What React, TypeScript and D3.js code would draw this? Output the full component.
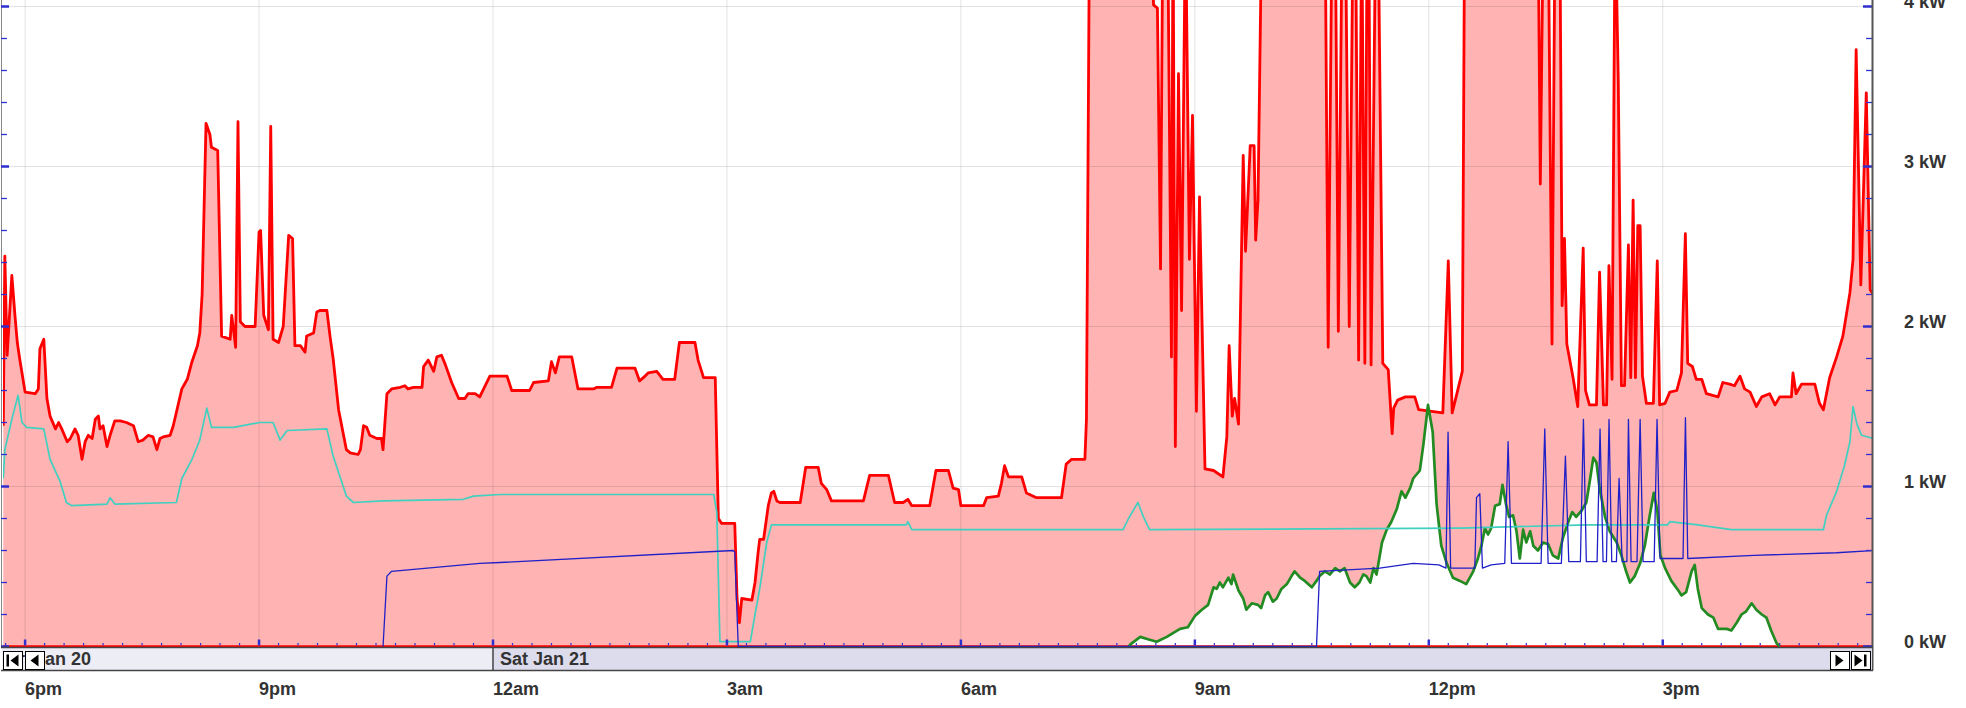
import React from "react";
import * as d3 from "d3";

// Hours since Fri Jan 20 2023 18:00 -> kW
const consumption: [number, number][] = [
  [-0.28,1.38],[-0.26,2.44],[-0.23,1.82],[-0.17,2.32],[-0.13,2.07],[-0.10,1.90],[-0.07,1.80],[0,1.59],[0.13,1.58],[0.17,1.61],[0.19,1.86],[0.24,1.92],[0.28,1.55],[0.32,1.44],[0.39,1.36],[0.43,1.40],[0.47,1.36],[0.54,1.28],[0.58,1.30],[0.64,1.36],[0.68,1.32],[0.73,1.17],[0.77,1.28],[0.81,1.32],[0.86,1.30],[0.90,1.42],[0.94,1.44],[0.96,1.36],[1.0,1.38],[1.05,1.25],[1.09,1.32],[1.15,1.41],[1.22,1.41],[1.30,1.40],[1.39,1.38],[1.45,1.28],[1.51,1.29],[1.58,1.32],[1.64,1.31],[1.69,1.23],[1.73,1.30],[1.77,1.31],[1.86,1.32],[1.90,1.38],[2.01,1.61],[2.08,1.67],[2.14,1.78],[2.21,1.88],[2.24,1.96],[2.27,2.2],
  [2.32,3.27],[2.37,3.20],[2.39,3.12],[2.47,3.10],[2.52,1.94],[2.63,1.92],[2.65,2.07],[2.70,1.87],[2.73,3.28],[2.76,2.03],[2.82,2.0],[2.95,2.0],[3.0,2.59],[3.02,2.60],[3.06,2.07],[3.12,1.98],[3.15,3.25],[3.18,1.92],[3.25,1.90],[3.31,2.0],[3.38,2.57],[3.43,2.55],[3.46,1.88],[3.53,1.88],[3.59,1.84],[3.61,1.94],[3.70,1.96],[3.74,2.09],[3.78,2.10],[3.87,2.10],[3.91,1.94],[3.95,1.80],[4.02,1.48],[4.06,1.38],[4.12,1.23],[4.17,1.21],[4.27,1.20],[4.30,1.23],[4.34,1.38],[4.38,1.37],[4.42,1.32],[4.51,1.30],[4.57,1.30],[4.59,1.23],[4.64,1.58],[4.70,1.61],[4.81,1.62],[4.87,1.63],[4.91,1.61],[4.98,1.62],[5.09,1.62],[5.11,1.75],[5.17,1.79],[5.24,1.72],[5.28,1.81],[5.34,1.82],[5.39,1.76],[5.47,1.65],[5.56,1.55],[5.64,1.55],[5.68,1.58],[5.77,1.58],
  [5.83,1.56],[5.96,1.69],[6.18,1.69],[6.24,1.60],[6.47,1.60],[6.52,1.65],[6.71,1.66],[6.75,1.78],[6.80,1.71],[6.85,1.81],[7.01,1.81],[7.09,1.61],[7.29,1.61],[7.33,1.62],[7.52,1.62],[7.59,1.74],[7.82,1.74],[7.88,1.66],[7.95,1.69],[7.99,1.71],[8.10,1.72],[8.18,1.67],[8.33,1.67],[8.39,1.90],[8.59,1.90],[8.63,1.79],[8.70,1.68],[8.85,1.68],[8.89,0.80],[8.93,0.77],[9.10,0.77],[9.13,0.30],[9.16,0.15],[9.19,0.30],[9.32,0.29],[9.36,0.40],[9.40,0.59],[9.42,0.67],[9.47,0.67],[9.53,0.88],[9.57,0.96],[9.60,0.97],[9.64,0.91],[9.68,0.90],[9.94,0.90],[10.01,1.12],[10.17,1.12],[10.21,1.02],[10.28,0.98],[10.34,0.91],[10.75,0.91],[10.83,1.07],[11.07,1.07],[11.15,0.90],[11.26,0.90],[11.32,0.92],[11.37,0.88],[11.60,0.88],[11.68,1.10],[11.84,1.10],[11.90,0.99],[11.97,0.98],[12.0,0.88],[12.29,0.88],[12.33,0.93],[12.48,0.94],[12.52,1.02],[12.56,1.13],[12.61,1.06],[12.78,1.06],[12.84,0.96],[12.97,0.93],[13.29,0.93],[13.35,1.14],[13.42,1.17],[13.59,1.17],[13.61,1.42],[13.65,4.6],
  [14.44,4.6],[14.47,4.01],[14.52,3.99],[14.56,2.36],[14.59,4.6],[14.65,4.6],[14.70,1.81],[14.72,4.6],[14.75,1.25],[14.79,3.58],[14.83,2.10],[14.88,4.6],[14.93,2.42],[14.97,3.32],[15.02,1.47],[15.06,2.81],[15.13,1.11],[15.24,1.10],[15.36,1.06],[15.41,1.31],[15.44,1.88],[15.48,1.44],[15.51,1.55],[15.56,1.39],[15.62,3.07],[15.65,2.47],[15.71,3.13],[15.76,3.13],[15.78,2.54],[15.81,2.79],[15.86,4.6],
  [16.67,4.6],[16.71,1.87],[16.76,4.6],[16.80,4.6],[16.84,1.97],[16.89,4.6],[16.93,4.6],[16.98,2.0],[17.03,4.6],[17.06,4.6],[17.10,1.79],[17.14,4.6],[17.18,1.77],[17.21,4.6],[17.23,4.6],[17.26,1.76],[17.32,4.6],[17.35,4.6],[17.41,1.77],[17.48,1.73],[17.53,1.33],[17.55,1.49],[17.60,1.54],[17.70,1.56],[17.82,1.56],[17.87,1.48],
  [18.18,1.46],[18.25,2.41],[18.30,1.46],[18.43,1.72],[18.46,4.6],[19.40,4.6],[19.43,2.89],[19.47,4.6],[19.53,4.6],[19.58,1.89],[19.62,4.6],[19.68,4.6],[19.71,2.13],[19.74,2.55],[19.77,1.89],[19.85,1.68],[19.91,1.50],[19.98,2.49],[20.01,1.60],[20.06,1.51],[20.15,1.51],[20.19,2.34],[20.24,1.51],[20.28,1.51],[20.31,2.38],[20.35,1.67],[20.39,4.6],[20.43,3.53],[20.47,1.63],[20.51,1.63],[20.56,2.51],[20.59,1.68],[20.62,2.79],[20.65,1.68],[20.68,2.63],[20.71,2.63],[20.74,1.69],[20.79,1.52],[20.88,1.52],[20.93,2.41],[20.96,1.51],[21.03,1.52],[21.09,1.59],[21.18,1.60],[21.24,1.71],[21.29,2.58],[21.32,1.77],[21.38,1.75],[21.43,1.67],[21.50,1.67],[21.56,1.58],[21.71,1.56],[21.77,1.65],[21.86,1.64],[21.92,1.63],[21.99,1.69],[22.05,1.61],[22.12,1.59],[22.20,1.50],[22.27,1.56],[22.37,1.58],[22.44,1.51],[22.50,1.56],[22.65,1.56],[22.67,1.71],[22.71,1.58],[22.78,1.64],[22.95,1.64],[23.01,1.52],[23.06,1.48],[23.14,1.68],[23.23,1.81],[23.31,1.94],[23.40,2.21],[23.44,2.42],[23.48,3.73],[23.54,2.26],[23.61,3.46],[23.66,2.23],[23.70,2.2],
];

const turquoise: [number, number][] = [
  [-0.28,1.05],[-0.26,1.23],[-0.17,1.42],[-0.09,1.57],[-0.04,1.40],[0.02,1.37],[0.24,1.36],[0.32,1.17],[0.45,1.03],[0.53,0.90],[0.60,0.88],[1.05,0.89],[1.09,0.93],[1.15,0.89],[1.94,0.90],[2.01,1.05],[2.14,1.17],[2.24,1.29],[2.33,1.49],[2.39,1.37],[2.67,1.37],[3.01,1.40],[3.18,1.40],[3.27,1.29],[3.36,1.35],[3.87,1.36],[3.95,1.19],[4.12,0.94],[4.21,0.90],[4.59,0.91],[5.62,0.92],[5.75,0.94],[6.09,0.95],[8.83,0.95],[8.87,0.84],[8.91,0.03],[9.30,0.03],[9.36,0.20],[9.42,0.36],[9.51,0.65],[9.57,0.76],[11.30,0.76],[11.32,0.78],[11.37,0.73],[14.08,0.73],[14.15,0.80],[14.27,0.90],[14.34,0.81],[14.42,0.73],[18.4,0.74],[20.02,0.76],[21.06,0.76],[21.09,0.78],[21.45,0.76],[21.88,0.73],[23.06,0.73],[23.10,0.82],[23.23,0.97],[23.33,1.13],[23.40,1.28],[23.44,1.50],[23.49,1.39],[23.55,1.32],[23.70,1.30],
];

const navy: [number, number][] = [
  [4.59,0],[4.64,0.44],[4.70,0.47],[5.83,0.52],[6.09,0.525],[9.08,0.60],[9.10,0.59],[9.145,0],[16.56,0],[16.60,0.47],[17.37,0.49],[17.80,0.52],[18.13,0.51],[18.22,0.49],[18.247,1.34],[18.28,0.49],[18.59,0.49],[18.612,0.93],[18.654,0.955],[18.688,0.49],[18.80,0.51],[18.974,0.52],[19.017,1.28],[19.06,0.52],[19.44,0.52],[19.487,1.36],[19.53,0.52],[19.70,0.52],[19.752,1.19],[19.795,0.53],[19.944,0.53],[19.983,1.42],[20.02,0.53],[20.158,0.53],[20.196,1.36],[20.235,0.53],[20.278,0.53],[20.311,1.42],[20.346,0.53],[20.406,0.53],[20.44,1.05],[20.48,0.53],[20.54,0.53],[20.56,1.42],[20.594,0.53],[20.67,0.53],[20.71,1.42],[20.748,0.53],[20.89,0.53],[20.927,1.42],[20.965,0.55],[21.26,0.55],[21.291,1.43],[21.321,0.55],[22.17,0.57],[23.227,0.586],[23.70,0.60],
];

const solar: [number, number][] = [
  [14.15,0],[14.19,0.02],[14.30,0.06],[14.40,0.045],[14.51,0.03],[14.64,0.06],[14.81,0.11],[14.91,0.12],[15.0,0.19],[15.09,0.23],[15.17,0.26],[15.24,0.37],[15.28,0.36],[15.32,0.40],[15.36,0.37],[15.43,0.43],[15.47,0.39],[15.49,0.45],[15.56,0.35],[15.62,0.30],[15.66,0.23],[15.73,0.27],[15.81,0.26],[15.85,0.24],[15.90,0.32],[15.94,0.34],[16.0,0.28],[16.05,0.30],[16.11,0.36],[16.18,0.39],[16.24,0.44],[16.28,0.47],[16.35,0.43],[16.41,0.41],[16.50,0.37],[16.56,0.41],[16.60,0.44],[16.67,0.47],[16.73,0.45],[16.80,0.49],[16.86,0.47],[16.92,0.49],[16.99,0.40],[17.05,0.37],[17.11,0.40],[17.16,0.45],[17.20,0.44],[17.25,0.40],[17.29,0.49],[17.33,0.45],[17.40,0.65],[17.46,0.73],[17.52,0.78],[17.59,0.86],[17.65,0.97],[17.70,0.93],[17.76,0.99],[17.80,1.05],[17.885,1.10],[17.93,1.26],[17.99,1.51],[18.05,1.34],[18.10,0.89],[18.16,0.63],[18.23,0.52],[18.31,0.43],[18.40,0.41],[18.48,0.39],[18.57,0.47],[18.63,0.55],[18.675,0.63],[18.72,0.74],[18.76,0.70],[18.80,0.74],[18.85,0.88],[18.91,0.89],[18.945,1.01],[18.99,0.89],[19.03,0.81],[19.08,0.82],[19.125,0.72],[19.167,0.55],[19.21,0.73],[19.25,0.65],[19.30,0.72],[19.34,0.63],[19.40,0.60],[19.465,0.65],[19.53,0.64],[19.59,0.57],[19.66,0.55],[19.72,0.68],[19.79,0.78],[19.84,0.84],[19.89,0.81],[19.96,0.85],[20.02,0.90],[20.06,1.02],[20.11,1.18],[20.15,1.15],[20.19,0.99],[20.26,0.81],[20.32,0.72],[20.41,0.65],[20.47,0.57],[20.53,0.47],[20.58,0.40],[20.64,0.44],[20.71,0.52],[20.77,0.63],[20.83,0.81],[20.885,0.96],[20.93,0.85],[20.97,0.57],[21.03,0.49],[21.11,0.41],[21.20,0.35],[21.24,0.32],[21.30,0.34],[21.37,0.47],[21.41,0.51],[21.45,0.36],[21.50,0.24],[21.58,0.20],[21.65,0.18],[21.71,0.11],[21.82,0.11],[21.88,0.10],[21.95,0.15],[22.01,0.20],[22.07,0.22],[22.14,0.27],[22.20,0.23],[22.27,0.20],[22.33,0.18],[22.39,0.10],[22.46,0.02],[22.50,0],
];

const gridExport: [number, number][] = [[-0.3, 0], [23.7, 0]];

const yMajorTicks = [0, 1, 2, 3, 4];
const yLabels = ["0 kW", "1 kW", "2 kW", "3 kW", "4 kW"];
const xLabelHours = [0, 3, 6, 9, 12, 15, 18, 21];
const xLabels = ["6pm", "9pm", "12am", "3am", "6am", "9am", "12pm", "3pm"];
const dayLabels = ["Fri Jan 20", "Sat Jan 21"];
const dayStartHours = [-18, 6];

const W = 1966;
const H = 708;
const BASE = new Date(2023, 0, 20, 18, 0, 0).getTime();
const toDate = (h: number) => new Date(BASE + h * 3600000);

const PL = 3;
const PR = 1872;
const Y0 = 646.5;
const NAV_TOP = 647;
const NAV_BOT = 670.5;
const FONT = "'Liberation Sans', Arial, sans-serif";
const TICK_BLUE = "#2f2fd0";

export default function App() {
  const x = d3
    .scaleTime()
    .domain([toDate(-17 / 60), toDate(23 + 41 / 60)])
    .range([PL, PR]);
  const y = d3.scaleLinear().domain([0, 4]).range([Y0, 6.5]);

  const area = d3
    .area<[number, number]>()
    .x((d) => x(toDate(d[0])))
    .y0(y(0))
    .y1((d) => y(d[1]));
  const line = d3
    .line<[number, number]>()
    .x((d) => x(toDate(d[0])))
    .y((d) => y(d[1]));

  const minorTimes = d3.timeMinute.every(15)!.range(x.domain()[0], x.domain()[1]);
  const yMinor = d3.range(0, 4.01, 0.2);

  const dividerX = x(toDate(6));

  return (
    <svg
      width={W}
      height={H}
      style={{ position: "absolute", left: 0, top: 0, background: "#fff" }}
      fontFamily={FONT}
    >
      <defs>
        <clipPath id="plot">
          <rect x={PL} y={-20} width={PR - PL} height={Y0 + 20 + 1} />
        </clipPath>
      </defs>
      <rect x={0} y={0} width={W} height={H} fill="#fff" />
      <g clipPath="url(#plot)">
        <path d={area(consumption) || ""} fill="#ffb3b3" />
        <path d={area(solar) || ""} fill="#ffffff" />
        {yMajorTicks.map((v) => (
          <line key={"gy" + v} x1={PL} x2={PR} y1={y(v)} y2={y(v)} stroke="#000" strokeOpacity={0.11} strokeWidth={1} />
        ))}
        {xLabelHours.map((h) => (
          <line key={"gx" + h} x1={x(toDate(h))} x2={x(toDate(h))} y1={0} y2={Y0} stroke="#000" strokeOpacity={0.11} strokeWidth={1} />
        ))}
        <path d={line(consumption) || ""} fill="none" stroke="#ff0000" strokeWidth={2.8} strokeLinejoin="round" />
        <path d={line(gridExport) || ""} fill="none" stroke="#ff0000" strokeWidth={2.6} />
        <path d={line(solar) || ""} fill="none" stroke="#228b22" strokeWidth={2.7} strokeLinejoin="round" />
        <path d={line(turquoise) || ""} fill="none" stroke="#40d0c0" strokeWidth={1.7} strokeLinejoin="round" />
        <path d={line(navy) || ""} fill="none" stroke="#2020c8" strokeWidth={1.3} strokeLinejoin="round" />
      </g>

      {/* bottom time ticks */}
      {minorTimes.map((t, i) => {
        const major = t.getMinutes() === 0 && t.getHours() % 3 === 0;
        const xx = x(t);
        return (
          <line
            key={"xt" + i}
            x1={xx}
            x2={xx}
            y1={Y0 - 1}
            y2={Y0 - (major ? 7 : 3.5)}
            stroke={TICK_BLUE}
            strokeWidth={major ? 2.5 : 1.2}
          />
        );
      })}

      {/* left axis */}
      <line x1={1.5} x2={1.5} y1={0} y2={NAV_TOP} stroke="#888" strokeWidth={1} />
      {yMinor.map((v, i) => {
        const major = Math.abs(v - Math.round(v)) < 0.01;
        return (
          <line key={"yl" + i} x1={1} x2={major ? 9 : 7} y1={y(v)} y2={y(v)} stroke={TICK_BLUE} strokeWidth={major ? 2.5 : 1.3} />
        );
      })}
      {/* right axis */}
      {yMinor.map((v, i) => {
        const major = Math.abs(v - Math.round(v)) < 0.01;
        return (
          <line key={"yr" + i} x1={major ? PR - 9 : PR - 6} x2={PR} y1={y(v)} y2={y(v)} stroke={TICK_BLUE} strokeWidth={major ? 2.5 : 1.3} />
        );
      })}
      <line x1={PR + 0.5} x2={PR + 0.5} y1={0} y2={NAV_BOT} stroke="#555" strokeWidth={2} />

      {/* navigator */}
      <rect x={PL - 1} y={NAV_TOP} width={dividerX - PL + 1} height={NAV_BOT - NAV_TOP} fill="#ededf5" />
      <rect x={dividerX} y={NAV_TOP} width={PR - dividerX} height={NAV_BOT - NAV_TOP} fill="#dcdcec" />
      <line x1={PL - 2} x2={PR + 1} y1={NAV_TOP + 0.5} y2={NAV_TOP + 0.5} stroke="#444" strokeWidth={1.5} />
      <line x1={PL - 2} x2={PR + 1} y1={NAV_BOT} y2={NAV_BOT} stroke="#444" strokeWidth={1.5} />
      <line x1={dividerX} x2={dividerX} y1={NAV_TOP} y2={NAV_BOT} stroke="#444" strokeWidth={1.5} />
      {dayLabels.map((lab, i) => (
        <text
          key={lab}
          x={i === 0 ? 7 : x(toDate(dayStartHours[i])) + 7}
          y={665}
          fontSize={18}
          fontWeight="bold"
          fill="#333"
        >
          {lab}
        </text>
      ))}
      {/* navigator buttons */}
      {[
        { bx: 3, kind: "first" },
        { bx: 25, kind: "prev" },
        { bx: 1830, kind: "next" },
        { bx: 1851, kind: "last" },
      ].map((b) => {
        const top = 651;
        const s = 19;
        const cx = b.bx + s / 2;
        const cy = top + s / 2;
        let shapes: React.ReactNode = null;
        if (b.kind === "prev" || b.kind === "first") {
          const off = b.kind === "first" ? 2 : 0;
          shapes = (
            <>
              <polygon points={`${cx - 4 + off},${cy} ${cx + 4 + off},${cy - 6} ${cx + 4 + off},${cy + 6}`} fill="#000" />
              {b.kind === "first" && <rect x={cx - 6} y={cy - 6} width={2.5} height={12} fill="#000" />}
            </>
          );
        } else {
          const off = b.kind === "last" ? -2 : 0;
          shapes = (
            <>
              <polygon points={`${cx + 4 + off},${cy} ${cx - 4 + off},${cy - 6} ${cx - 4 + off},${cy + 6}`} fill="#000" />
              {b.kind === "last" && <rect x={cx + 3.5} y={cy - 6} width={2.5} height={12} fill="#000" />}
            </>
          );
        }
        return (
          <g key={b.kind}>
            <rect x={b.bx + 0.5} y={top + 0.5} width={s} height={s - 1} fill="#fff" stroke="#000" strokeWidth={1} />
            {shapes}
          </g>
        );
      })}

      {/* x labels */}
      {xLabelHours.map((h, i) => (
        <text key={"xl" + h} x={x(toDate(h))} y={695} fontSize={18} fontWeight="bold" fill="#333">
          {xLabels[i]}
        </text>
      ))}
      {/* y labels */}
      {yMajorTicks.map((v, i) => (
        <text key={"yl" + v} x={1904} y={y(v) + 1} fontSize={18} fontWeight="bold" fill="#333">
          {yLabels[i]}
        </text>
      ))}
    </svg>
  );
}
